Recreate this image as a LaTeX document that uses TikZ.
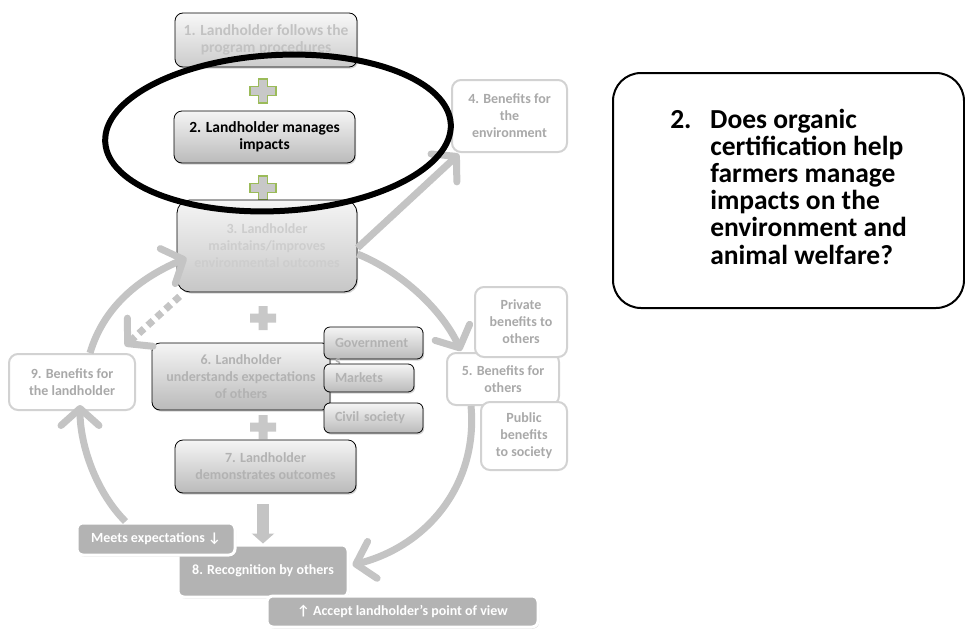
\documentclass[tikz,border=0pt]{standalone}
\usepackage{fontspec}
\setmainfont{Carlito}
\usetikzlibrary{arrows.meta,shadows,calc}

\definecolor{arrowgray}{HTML}{C4C4C4}
\definecolor{framegray}{HTML}{D2D2D2}
\definecolor{softtext}{HTML}{A9A9A9}
\definecolor{fadetext}{HTML}{B2B2B2}
\definecolor{paletext}{HTML}{C2C2C2}
\definecolor{ghosttext}{HTML}{CDCDCD}
\definecolor{recog}{HTML}{B3B3B3}
\definecolor{crossgreen}{HTML}{9BBB59}
\definecolor{crossfill}{HTML}{C8C8C8}

\tikzset{
  lbl/.style={font=\bfseries\fontsize{14}{17}\selectfont},
  biglbl/.style={font=\bfseries\fontsize{15.5}{17.5}\selectfont},
  stepbox/.style={lbl, draw=black, line width=0.8pt, rounded corners=8pt,
    top color=black!4, bottom color=black!27, align=center, inner sep=2pt,
    drop shadow={shadow xshift=1.2pt, shadow yshift=-1.6pt, opacity=0.35}},
  tagbox/.style={stepbox, align=left, text=fadetext, inner xsep=11pt, rounded corners=6pt},
  outcome/.style={lbl, draw=framegray, line width=2pt, fill=white,
    rounded corners=9pt, align=center, text=softtext, inner sep=2pt},
  pill/.style={lbl, draw=white, line width=3pt, fill=recog, rounded corners=6pt,
    text=white, inner sep=2pt,
    drop shadow={shadow xshift=1pt, shadow yshift=-1.5pt, opacity=0.4}},
  flow/.style={draw=arrowgray, line width=7pt, line cap=butt,
    -{Straight Barb[length=17pt,width=38pt,round]}},
  crossmark/.pic={\path[pic actions] (-4.5,-12) -- (4.5,-12) -- (4.5,-4.5) -- (13,-4.5)
    -- (13,4.5) -- (4.5,4.5) -- (4.5,12) -- (-4.5,12) -- (-4.5,4.5) -- (-13,4.5)
    -- (-13,-4.5) -- (-4.5,-4.5) -- cycle;},
}

\begin{document}
\begin{tikzpicture}[x=1pt,y=-1pt]
\useasboundingbox[fill=white] (0,0) rectangle (965,629);

% central chain of steps
\node[stepbox, biglbl, text=paletext, top color=black!3, bottom color=black!20,
  minimum width=182pt, minimum height=54pt] (b1) at (266,40)
  {1. Landholder follows the\\program procedures};
\pic[fill=crossfill, draw=crossgreen, line width=1.2pt] at (263,91) {crossmark};
\node[stepbox, biglbl, text=black, minimum width=181pt, minimum height=52pt] (b2) at (264.5,137)
  {2. Landholder manages\\impacts};
\pic[fill=crossfill, draw=crossgreen, line width=1.2pt] at (263,188) {crossmark};
\node[stepbox, text=ghosttext, top color=black!4, bottom color=black!22, rounded corners=13pt,
  minimum width=180pt, minimum height=92pt] (b3) at (267,246)
  {3. Landholder\\maintains/improves\\environmental outcomes};
\pic[fill=crossfill] at (263,318) {crossmark};
\node[stepbox, text=fadetext, minimum width=178pt, minimum height=67pt] (b6) at (241,376.5)
  {6. Landholder\\understands expectations\\of others};
\pic[fill=crossfill] at (263,427) {crossmark};
\node[stepbox, text=fadetext, minimum width=181pt, minimum height=53pt] (b7) at (265.5,466.5)
  {7. Landholder\\demonstrates outcomes};

% the others whose expectations matter
\node[tagbox, text width=77pt, minimum width=99pt, minimum height=32pt] (gov) at (373.5,343) {Government};
\node[lbl, text=fadetext, anchor=west, inner sep=0pt] (govs) at (335,362) {s};
\node[tagbox, text width=68pt, minimum width=90pt, minimum height=28pt] (mkt) at (369,378) {Markets};
\node[tagbox, text width=77pt, minimum width=99pt, minimum height=30pt] (civ) at (373.5,418) {Civil society};

% benefits
\node[outcome, minimum width=115pt, minimum height=72pt] (b4) at (509.5,116) {4. Benefits for\\the\\environment};
\node[outcome, minimum width=112pt, minimum height=52pt] (b5) at (503,379) {5. Benefits for\\others};
\node[outcome, minimum width=92pt, minimum height=70pt] (priv) at (521,322) {Private\\benefits to\\others};
\node[outcome, minimum width=86pt, minimum height=68pt] (pub) at (524,436) {Public\\benefits\\to society};
\node[outcome, minimum width=126pt, minimum height=56pt] (b9) at (72,382) {9. Benefits for\\the landholder};

% recognition
\node[pill, minimum width=170pt, minimum height=52pt] (b8) at (263,571) {8. Recognition by others};
\node[pill, minimum width=158pt, minimum height=32pt] (meets) at (156,539) {Meets expectations \char"2193};
\node[pill, minimum width=271pt, minimum height=31pt] (accept) at (402.5,611.5) {\char"2191\ Accept landholder’s point of view};

% connectors of the cycle
\draw[draw=arrowgray, line width=12pt, -{Triangle[width=22pt,length=10pt]}, shorten <=11pt]
  (b8.north |- b7.south) -- (b8.north);
\draw[flow] ($(b3.east)+(0,2)$) -- ($(b4.south west)+(8,1)$);
\draw[flow] ($(b3.east)+(0,8)$) .. controls (402,272) and (442,310) .. ($(b5.north west)+(15,-1)$);
\draw[flow] ($(b5.south west)+(25,0)$) .. controls (478,482) and (430,545) .. ($(b8.east)+(3,-6)$);
\draw[flow] ($(meets.north west)+(50,0)$) .. controls (96,492) and (80,445) .. ($(b9.south)+(8,-6)$);
\draw[flow] ($(b9.north)+(18,0)$) .. controls (104,306) and (140,278) .. ($(b3.west)+(10,12)$);
\coordinate (backtip) at ($(b9.north east)+(-11,-7)$);
\draw[flow, dash pattern=on 7pt off 5pt] ($(b3.south west)+(3,4)$) -- (backtip);

% highlight around step 2
\draw[line width=6pt, rotate around={3:(278,133)}] (278,133) ellipse [x radius=173, y radius=78];

% question box
\node[draw=black, line width=2pt, rounded corners=28pt, minimum width=351pt, minimum height=235pt,
  font=\bfseries\fontsize{27.5}{26.5}\selectfont, inner sep=0pt] (question) at (788.5,190.5)
  {\begin{tabular}{@{}p{40pt}@{}l@{}}
   2. & Does organic\\
      & certification help\\
      & farmers manage\\
      & impacts on the\\
      & environment and\\
      & animal welfare?
   \end{tabular}};
\end{tikzpicture}
\end{document}
